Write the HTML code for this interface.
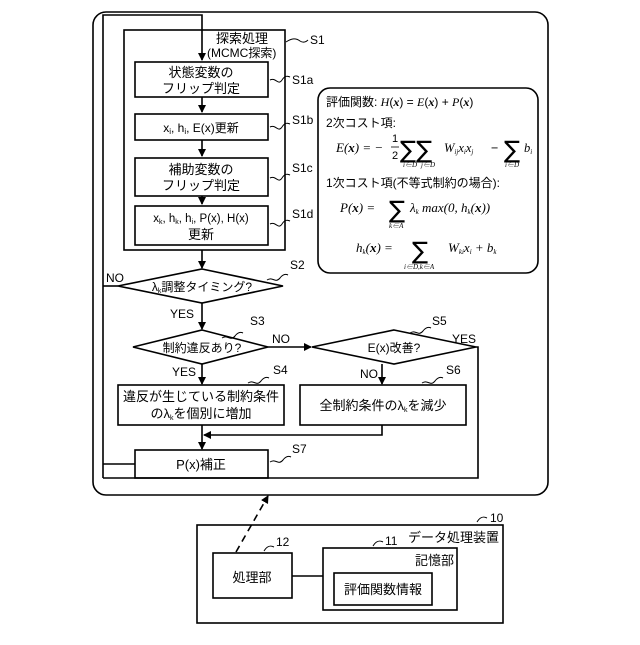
<!DOCTYPE html>
<html><head><meta charset="utf-8"><style>
body{margin:0;background:#fff}
svg text{font-family:"Liberation Sans","Noto Sans CJK JP",sans-serif;fill:#000}
.m{font-family:"Liberation Serif","Noto Serif CJK SC",serif;font-style:italic}
.s{font-family:"DejaVu Sans",sans-serif}
</style></head><body>
<svg width="640" height="640" viewBox="0 0 640 640" xmlns="http://www.w3.org/2000/svg">
<defs><marker id="a" markerWidth="8" markerHeight="8" refX="7" refY="4" orient="auto" markerUnits="userSpaceOnUse"><path d="M0,0 L8,4 L0,8 z" fill="#000"/></marker></defs>
<g fill="none" stroke="#000" stroke-width="1.6">
<rect x="93" y="12" width="455" height="483" rx="13"/>
<polyline points="135,464 103,464"/>
<polyline points="103,478 103,15 202,15 202,60" marker-end="url(#a)"/>
<rect x="124" y="30" width="161" height="220"/>
<rect x="135" y="62" width="133" height="35"/>
<rect x="135" y="114" width="133" height="26"/>
<rect x="135" y="158" width="133" height="38"/>
<rect x="135" y="206" width="133" height="39"/>
<line x1="202" y1="97" x2="202" y2="112" marker-end="url(#a)"/>
<line x1="202" y1="140" x2="202" y2="156" marker-end="url(#a)"/>
<line x1="202" y1="196" x2="202" y2="204" marker-end="url(#a)"/>
<line x1="202" y1="250" x2="202" y2="268" marker-end="url(#a)"/>
<polygon points="202,269 283,286 202,303 118,286"/>
<line x1="118" y1="286" x2="103" y2="286"/>
<line x1="202" y1="303" x2="202" y2="329" marker-end="url(#a)"/>
<polygon points="202,330 268,347 202,364 133,347"/>
<polygon points="394,330 476,347 394,364 312,347"/>
<line x1="268" y1="347" x2="311" y2="347" marker-end="url(#a)"/>
<polyline points="476,347 478,347 478,478 103,478"/>
<line x1="202" y1="364" x2="202" y2="384" marker-end="url(#a)"/>
<line x1="382" y1="364" x2="382" y2="384" marker-end="url(#a)"/>
<rect x="118" y="385" width="166" height="40"/>
<rect x="300" y="385" width="166" height="40"/>
<polyline points="382,425 382,435 204,435" marker-end="url(#a)"/>
<line x1="202" y1="425" x2="202" y2="449" marker-end="url(#a)"/>
<rect x="135" y="450" width="133" height="28"/>
<rect x="318" y="88" width="220" height="185" rx="12"/>
<rect x="197" y="525" width="306" height="98"/>
<rect x="213" y="553" width="79" height="45"/>
<rect x="323" y="548" width="134" height="62"/>
<rect x="334" y="573" width="98" height="32"/>
<line x1="292" y1="576" x2="323" y2="576"/>
<line x1="236" y1="552" x2="268" y2="496" stroke-dasharray="7,5" marker-end="url(#a)"/>
<g stroke-width="1">
<path d="M286,42 c6,-4 10,-4 14,-1 c3,2 6,1 8,-1"/>
<path d="M270,80 c6,-3 8,6 12,0 c3,-5 6,-4 8,-3"/>
<path d="M270,127 c6,-3 8,6 12,0 c3,-5 6,-4 8,-3"/>
<path d="M270,178 c6,-3 8,6 12,0 c3,-5 6,-4 8,-3"/>
<path d="M270,224 c6,-3 8,6 12,0 c3,-5 6,-4 8,-3"/>
<path d="M267,280 c6,-4 8,4 13,-2 c3,-4 6,-4 8,-3"/>
<path d="M222,338 c6,-4 8,4 13,-2 c3,-4 6,-4 8,-3"/>
<path d="M410,333 c6,-4 8,4 13,-2 c3,-4 6,-4 8,-3"/>
<path d="M248,383 c6,-4 8,4 13,-2 c3,-4 6,-4 8,-3"/>
<path d="M422,383 c6,-4 8,4 13,-2 c3,-4 6,-4 8,-3"/>
<path d="M270,462 c6,-4 8,4 13,-2 c3,-4 6,-4 8,-3"/>
<path d="M477,522 c3,-5 6,-6 10,-4"/>
<path d="M264,551 c3,-5 6,-6 10,-4"/>
<path d="M373,546 c3,-5 6,-6 10,-4"/>
</g>
</g>
<g font-size="12">
<text x="216" y="43" font-size="13">探索処理</text>
<text x="207" y="57" font-size="12">(MCMC探索)</text>
<text x="310" y="44">S1</text>
<text x="201" y="77" text-anchor="middle" font-size="13">状態変数の</text>
<text x="201" y="93" text-anchor="middle" font-size="13">フリップ判定</text>
<text x="292" y="84">S1a</text>
<text x="201" y="132" text-anchor="middle">x<tspan font-size="8" dy="2">i</tspan><tspan dy="-2">, h</tspan><tspan font-size="8" dy="2">i</tspan><tspan dy="-2">, E(x)更新</tspan></text>
<text x="292" y="124">S1b</text>
<text x="201" y="174" text-anchor="middle" font-size="13">補助変数の</text>
<text x="201" y="190" text-anchor="middle" font-size="13">フリップ判定</text>
<text x="292" y="172">S1c</text>
<text x="201" y="222" text-anchor="middle" font-size="11.5">x<tspan font-size="7" dy="2">k</tspan><tspan dy="-2">, h</tspan><tspan font-size="7" dy="2">k</tspan><tspan dy="-2">, h</tspan><tspan font-size="7" dy="2">i</tspan><tspan dy="-2">, P(x), H(x)</tspan></text>
<text x="201" y="239" text-anchor="middle" font-size="13">更新</text>
<text x="292" y="218">S1d</text>
<text x="290" y="269">S2</text>
<text x="106" y="282">NO</text>
<text x="202" y="291" text-anchor="middle">λ<tspan font-size="7" dy="2">k</tspan><tspan dy="-2">調整タイミング?</tspan></text>
<text x="170" y="318">YES</text>
<text x="250" y="325">S3</text>
<text x="202" y="352" text-anchor="middle">制約違反あり?</text>
<text x="272" y="343">NO</text>
<text x="432" y="325">S5</text>
<text x="394" y="352" text-anchor="middle">E(x)改善?</text>
<text x="452" y="343">YES</text>
<text x="172" y="376">YES</text>
<text x="360" y="378">NO</text>
<text x="273" y="374">S4</text>
<text x="446" y="374">S6</text>
<text x="201" y="401" text-anchor="middle" font-size="13">違反が生じている制約条件</text>
<text x="201" y="418" text-anchor="middle" font-size="13">のλ<tspan font-size="7" dy="2">k</tspan><tspan dy="-2">を個別に増加</tspan></text>
<text x="383" y="410" text-anchor="middle" font-size="13">全制約条件のλ<tspan font-size="7" dy="2">k</tspan><tspan dy="-2">を減少</tspan></text>
<text x="292" y="453">S7</text>
<text x="201" y="469" text-anchor="middle" font-size="13">P(x)補正</text>
<text x="326" y="106">評価関数: <tspan class="m">H</tspan>(<tspan class="m" font-weight="bold">x</tspan>) = <tspan class="m">E</tspan>(<tspan class="m" font-weight="bold">x</tspan>) + <tspan class="m">P</tspan>(<tspan class="m" font-weight="bold">x</tspan>)</text>
<text x="326" y="127">2次コスト項:</text>
<text x="336" y="152" class="m" font-size="13">E(<tspan font-weight="bold">x</tspan>) = −</text>
<text x="392" y="142" font-size="11">1</text><text x="392" y="159" font-size="11">2</text>
<line x1="391" y1="147" x2="399" y2="147" stroke="#000" stroke-width="0.8"/>
<text x="400" y="158" font-size="24" class="s">∑∑</text>
<text x="444" y="152" class="m" font-size="12.5">W<tspan font-size="7" dy="2">ij</tspan><tspan dy="-2">x</tspan><tspan font-size="7" dy="2">i</tspan><tspan dy="-2">x</tspan><tspan font-size="7" dy="2">j</tspan></text>
<text x="491" y="152" font-size="12.5">−</text>
<text x="504" y="158" font-size="24" class="s">∑</text><text x="524" y="152" class="m" font-size="12.5">b<tspan font-size="7" dy="2">i</tspan></text>
<text x="403" y="167" font-size="7" class="m">i∈D</text><text x="421" y="167" font-size="7" class="m">j∈D</text><text x="505" y="167" font-size="7" class="m">i∈D</text>
<text x="326" y="187">1次コスト項(不等式制約の場合):</text>
<text x="340" y="212" class="m" font-size="13">P(<tspan font-weight="bold">x</tspan>) =</text>
<text x="389" y="218" font-size="24" class="s">∑</text><text x="389" y="228" font-size="7" class="m">k∈A</text>
<text x="410" y="212" class="m" font-size="13">λ<tspan font-size="7" dy="2">k</tspan><tspan dy="-2"> max(0, h</tspan><tspan font-size="7" dy="2">k</tspan><tspan dy="-2">(</tspan><tspan font-weight="bold">x</tspan>))</text>
<text x="356" y="252" class="m" font-size="13">h<tspan font-size="7" dy="2">k</tspan><tspan dy="-2">(</tspan><tspan font-weight="bold">x</tspan>) =</text>
<text x="412" y="259" font-size="24" class="s">∑</text><text x="404" y="269" font-size="7" class="m">i∈D,k∈A</text>
<text x="448" y="252" class="m" font-size="13">W<tspan font-size="7" dy="2">ki</tspan><tspan dy="-2">x</tspan><tspan font-size="7" dy="2">i</tspan><tspan dy="-2"> + b</tspan><tspan font-size="7" dy="2">k</tspan></text>
<text x="490" y="522">10</text>
<text x="408" y="542" font-size="13">データ処理装置</text>
<text x="276" y="546">12</text>
<text x="385" y="545">11</text>
<text x="415" y="565" font-size="13">記憶部</text>
<text x="252" y="582" text-anchor="middle" font-size="13">処理部</text>
<text x="383" y="594" text-anchor="middle" font-size="13">評価関数情報</text>
</g>
</svg>
</body></html>
